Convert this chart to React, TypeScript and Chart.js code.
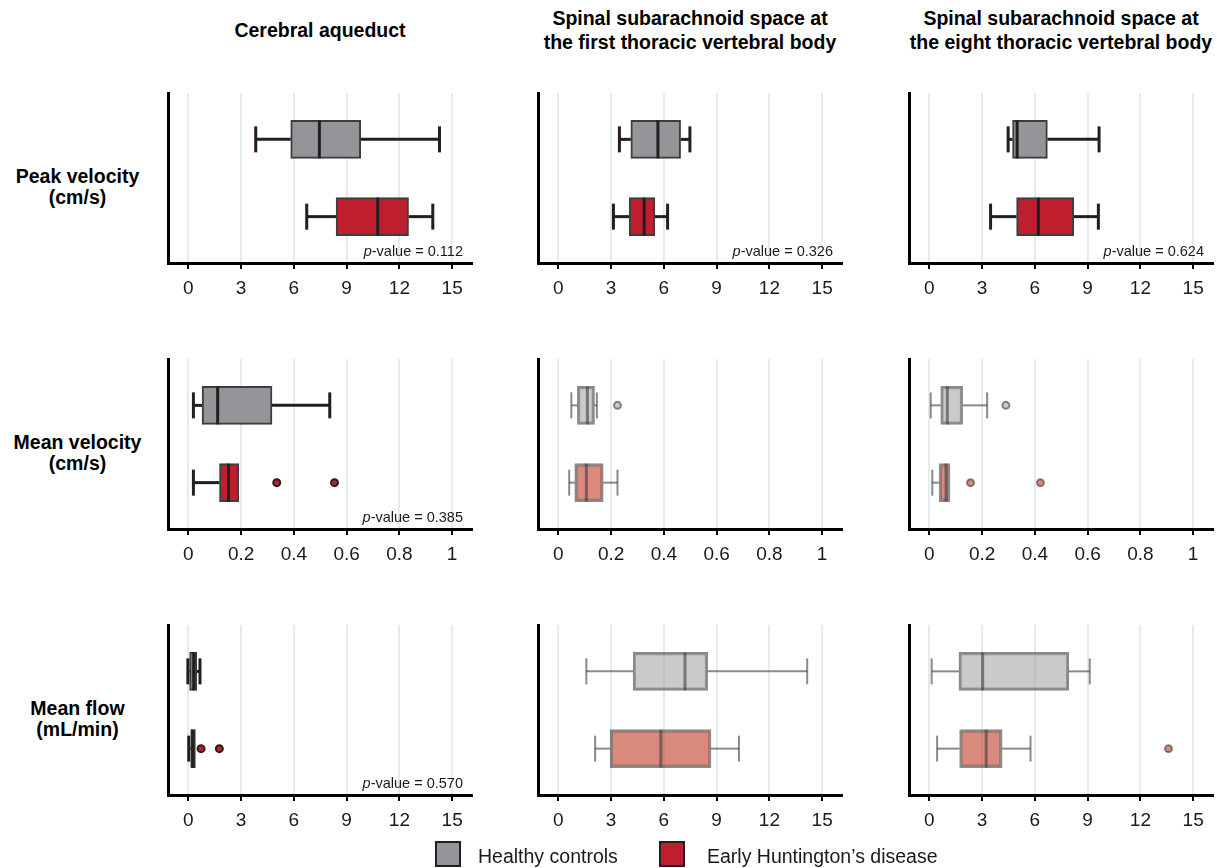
import React, { useEffect, useRef } from 'react';
import { Chart, registerables } from 'chart.js';

Chart.register(...registerables);

const FONT = '"Liberation Sans", Arial, Helvetica, sans-serif';

// ---------- data ----------
const groups = ['Healthy controls', 'Early Huntington\u2019s disease'];

const columnTitles = [
  ['Cerebral aqueduct'],
  ['Spinal subarachnoid space at', 'the first thoracic vertebral body'],
  ['Spinal subarachnoid space at', 'the eight thoracic vertebral body'],
];

const rowLabels = [
  ['Peak velocity', '(cm/s)'],
  ['Mean velocity', '(cm/s)'],
  ['Mean flow', '(mL/min)'],
];

const ticksTo15 = [0, 3, 6, 9, 12, 15];
const tickLabelsTo15 = ['0', '3', '6', '9', '12', '15'];
const ticksTo1 = [0, 0.2, 0.4, 0.6, 0.8, 1];
const tickLabelsTo1 = ['0', '0.2', '0.4', '0.6', '0.8', '1'];

// five-number summaries: [min, Q1, median, Q3, max]
const peakAqueductHC = [3.83, 5.82, 7.45, 9.8, 14.28];
const peakAqueductHD = [6.73, 8.4, 10.77, 12.52, 13.9];
const peakT1HC = [3.47, 4.12, 5.66, 6.95, 7.48];
const peakT1HD = [3.13, 4.03, 4.88, 5.49, 6.21];
const peakT8HC = [4.48, 4.73, 4.99, 6.71, 9.65];
const peakT8HD = [3.48, 4.96, 6.2, 8.21, 9.61];

const meanVelAqueductHC = [0.019, 0.052, 0.111, 0.317, 0.536];
const meanVelAqueductHD = [0.019, 0.118, 0.152, 0.191, 0.191];
const meanVelT1HC = [0.049, 0.072, 0.11, 0.137, 0.146];
const meanVelT1HD = [0.041, 0.062, 0.106, 0.17, 0.224];
const meanVelT8HC = [0.005, 0.043, 0.068, 0.126, 0.219];
const meanVelT8HD = [0.011, 0.037, 0.063, 0.078, 0.078];

const flowAqueductHC = [-0.03, 0.07, 0.3, 0.47, 0.66];
const flowAqueductHD = [0.02, 0.13, 0.25, 0.4, 0.4];
const flowT1HC = [1.59, 4.25, 7.2, 8.49, 14.15];
const flowT1HD = [2.09, 2.94, 5.83, 8.68, 10.27];
const flowT8HC = [0.13, 1.68, 3.03, 7.93, 9.12];
const flowT8HD = [0.44, 1.72, 3.23, 4.14, 5.75];

// outliers
const meanVelAqueductHDOut = [0.335, 0.554];
const meanVelT1HCOut = [0.224];
const meanVelT8HCOut = [0.29];
const meanVelT8HDOut = [0.156, 0.421];
const flowAqueductHDOut = [0.72, 1.76];
const flowT8HDOut = [13.6];

const pValues = ['0.112', '0.326', '0.624', '0.385', null, null, '0.570', null, null];

type Panel = {
  row: number;
  col: number;
  hc: number[];
  hd: number[];
  hcOut: number[];
  hdOut: number[];
  ticks: number[];
  labels: string[];
  faded: boolean;
};

const panels: Panel[] = [
  { row: 0, col: 0, hc: peakAqueductHC, hd: peakAqueductHD, hcOut: [], hdOut: [], ticks: ticksTo15, labels: tickLabelsTo15, faded: false },
  { row: 0, col: 1, hc: peakT1HC, hd: peakT1HD, hcOut: [], hdOut: [], ticks: ticksTo15, labels: tickLabelsTo15, faded: false },
  { row: 0, col: 2, hc: peakT8HC, hd: peakT8HD, hcOut: [], hdOut: [], ticks: ticksTo15, labels: tickLabelsTo15, faded: false },
  { row: 1, col: 0, hc: meanVelAqueductHC, hd: meanVelAqueductHD, hcOut: [], hdOut: meanVelAqueductHDOut, ticks: ticksTo1, labels: tickLabelsTo1, faded: false },
  { row: 1, col: 1, hc: meanVelT1HC, hd: meanVelT1HD, hcOut: meanVelT1HCOut, hdOut: [], ticks: ticksTo1, labels: tickLabelsTo1, faded: true },
  { row: 1, col: 2, hc: meanVelT8HC, hd: meanVelT8HD, hcOut: meanVelT8HCOut, hdOut: meanVelT8HDOut, ticks: ticksTo1, labels: tickLabelsTo1, faded: true },
  { row: 2, col: 0, hc: flowAqueductHC, hd: flowAqueductHD, hcOut: [], hdOut: flowAqueductHDOut, ticks: ticksTo15, labels: tickLabelsTo15, faded: false },
  { row: 2, col: 1, hc: flowT1HC, hd: flowT1HD, hcOut: [], hdOut: [], ticks: ticksTo15, labels: tickLabelsTo15, faded: true },
  { row: 2, col: 2, hc: flowT8HC, hd: flowT8HD, hcOut: [], hdOut: flowT8HDOut, ticks: ticksTo15, labels: tickLabelsTo15, faded: true },
];

// ---------- layout & style ----------
const PLOT_LEFT = [168, 538, 909];
const PLOT_TOP = [93, 359, 625];
const PLOT_W = 304;
const PLOT_H = 170;
const PAD_L = 20;
const PAD_R = 4;
const PAD_T = 10;
const AXIS_H = 48;

const SOLID = {
  fill: ['#939598', '#be1e2d'],
  boxBorder: '#3d3d3e',
  boxBorderWidth: 2,
  line: '#231f20',
  whisker: 3,
  cap: 3,
  median: 3,
  outBorder: '#231f20',
};
const FADED = {
  fill: ['rgba(165,166,168,0.6)', 'rgba(192,60,37,0.6)'],
  boxBorder: 'rgba(60,60,60,0.6)',
  boxBorderWidth: 2.5,
  line: 'rgba(60,60,60,0.6)',
  whisker: 2,
  cap: 2,
  median: 3,
  outBorder: 'rgba(60,60,60,0.6)',
};

function BoxPanel({ p }: { p: Panel }) {
  const ref = useRef<HTMLCanvasElement>(null);
  const width = PAD_L + PLOT_W + PAD_R;
  const height = PAD_T + PLOT_H + AXIS_H;

  useEffect(() => {
    if (!ref.current) return;
    const pal = p.faded ? FADED : SOLID;
    const stats = [p.hc, p.hd];
    const outs = [p.hcOut, p.hdOut];
    const axisMax = p.ticks[p.ticks.length - 1];
    const datasets: any[] = [];

    datasets.push({
      type: 'bar',
      indexAxis: 'y',
      label: 'box',
      data: stats.map((s, i) => ({ y: i, x: [s[1], s[3]] })),
      backgroundColor: pal.fill,
      borderColor: pal.boxBorder,
      borderWidth: pal.boxBorderWidth,
      borderSkipped: false,
      barThickness: 38,
      order: 2,
    });

    stats.forEach((s, i) => {
      if (s[0] < s[1]) {
        datasets.push({
          type: 'line',
          data: [{ x: s[0], y: i }, { x: s[1], y: i }],
          borderColor: pal.line,
          borderWidth: pal.whisker,
          pointRadius: 0,
          order: 3,
        });
      }
      if (s[4] > s[3]) {
        datasets.push({
          type: 'line',
          data: [{ x: s[3], y: i }, { x: s[4], y: i }],
          borderColor: pal.line,
          borderWidth: pal.whisker,
          pointRadius: 0,
          order: 3,
        });
      }
    });

    const caps: { x: number; y: number }[] = [];
    stats.forEach((s, i) => {
      if (s[0] < s[1]) caps.push({ x: s[0], y: i });
      if (s[4] > s[3]) caps.push({ x: s[4], y: i });
    });
    datasets.push({
      type: 'scatter',
      data: caps,
      pointStyle: 'line',
      pointRotation: 90,
      pointRadius: 13,
      pointBorderWidth: pal.cap,
      pointBorderColor: pal.line,
      order: 1,
    });

    datasets.push({
      type: 'scatter',
      data: stats.map((s, i) => ({ x: s[2], y: i })),
      pointStyle: 'line',
      pointRotation: 90,
      pointRadius: 19,
      pointBorderWidth: pal.median,
      pointBorderColor: pal.line,
      order: 1,
    });

    outs.forEach((o, i) => {
      if (!o.length) return;
      datasets.push({
        type: 'scatter',
        data: o.map((v) => ({ x: v, y: i })),
        pointStyle: 'circle',
        pointRadius: 3.5,
        pointBackgroundColor: pal.fill[i],
        pointBorderColor: pal.outBorder,
        pointBorderWidth: 2,
        order: 0,
      });
    });

    const chart = new Chart(ref.current, {
      type: 'scatter',
      data: { datasets },
      options: {
        animation: false,
        responsive: false,
        maintainAspectRatio: false,
        events: [],
        layout: { autoPadding: false, padding: { left: PAD_L, right: PAD_R, top: PAD_T, bottom: 0 } },
        plugins: { legend: { display: false }, tooltip: { enabled: false } },
        scales: {
          x: {
            type: 'linear',
            offset: false,
            min: -0.0773 * axisMax,
            max: 1.0753 * axisMax,
            afterBuildTicks: (s: any) => {
              s.ticks = p.ticks.map((v) => ({ value: v }));
            },
            afterFit: (s: any) => {
              s.height = AXIS_H;
            },
            ticks: {
              callback: (_v: any, i: number) => p.labels[i],
              color: '#1a1a1a',
              font: { family: FONT, size: 19 },
              padding: 8,
              maxRotation: 0,
              autoSkip: false,
            },
            grid: {
              color: '#e4ecf0',
              lineWidth: 2,
              drawTicks: true,
              tickLength: 6,
              tickColor: '#000',
              tickWidth: 2,
              offset: false,
            },
            border: { display: true, color: '#000', width: 3 },
          },
          y: {
            type: 'linear',
            offset: false,
            min: -0.6,
            max: 1.6,
            reverse: true,
            ticks: { display: false },
            grid: { display: false, offset: false },
            border: { display: true, color: '#000', width: 3 },
            afterFit: (s: any) => {
              s.width = 0;
            },
          },
        },
      } as any,
    });
    return () => chart.destroy();
  }, [p]);

  return (
    <canvas
      ref={ref}
      width={width}
      height={height}
      style={{
        position: 'absolute',
        left: PLOT_LEFT[p.col] - PAD_L,
        top: PLOT_TOP[p.row] - PAD_T,
        width,
        height,
      }}
    />
  );
}

export default function App() {
  return (
    <div
      style={{
        position: 'fixed',
        left: 0,
        top: 0,
        width: 1217,
        height: 868,
        overflow: 'hidden',
        background: '#fff',
        fontFamily: FONT,
        color: '#000',
      }}
    >
      {columnTitles.map((lines, c) => (
        <div
          key={'t' + c}
          style={{
            position: 'absolute',
            left: PLOT_LEFT[c] - 20,
            width: PLOT_W + 40,
            top: 6,
            height: 48,
            display: 'flex',
            flexDirection: 'column',
            justifyContent: 'center',
            alignItems: 'center',
            fontWeight: 'bold',
            fontSize: 19.5,
            lineHeight: '24px',
            whiteSpace: 'nowrap',
          }}
        >
          {lines.map((l, k) => (
            <div key={k}>{l}</div>
          ))}
        </div>
      ))}

      {rowLabels.map((lines, r) => (
        <div
          key={'r' + r}
          style={{
            position: 'absolute',
            left: 0,
            width: 155,
            top: PLOT_TOP[r] + 72.5,
            textAlign: 'center',
            fontWeight: 'bold',
            fontSize: 19.5,
            lineHeight: '21px',
            whiteSpace: 'nowrap',
          }}
        >
          {lines.map((l, k) => (
            <div key={k}>{l}</div>
          ))}
        </div>
      ))}

      {panels.map((p, i) => (
        <BoxPanel key={'p' + i} p={p} />
      ))}

      {panels.map((p, i) =>
        pValues[i] ? (
          <div
            key={'pv' + i}
            style={{
              position: 'absolute',
              right: 1217 - (PLOT_LEFT[p.col] + PLOT_W - 9),
              top: PLOT_TOP[p.row] + PLOT_H - 20,
              fontSize: 14.5,
              lineHeight: '16px',
              whiteSpace: 'nowrap',
              color: '#1a1a1a',
            }}
          >
            <i>p</i>-value = {pValues[i]}
          </div>
        ) : null
      )}

      {groups.map((g, i) => (
        <React.Fragment key={'lg' + i}>
          <div
            style={{
              position: 'absolute',
              left: [435, 659][i],
              top: 841,
              width: 26,
              height: 26,
              boxSizing: 'border-box',
              border: '2px solid #231f20',
              background: SOLID.fill[i],
            }}
          />
          <div
            style={{
              position: 'absolute',
              left: [478, 707][i],
              top: 844,
              fontSize: 19.5,
              lineHeight: '24px',
              whiteSpace: 'nowrap',
              color: '#1a1a1a',
            }}
          >
            {g}
          </div>
        </React.Fragment>
      ))}
    </div>
  );
}
